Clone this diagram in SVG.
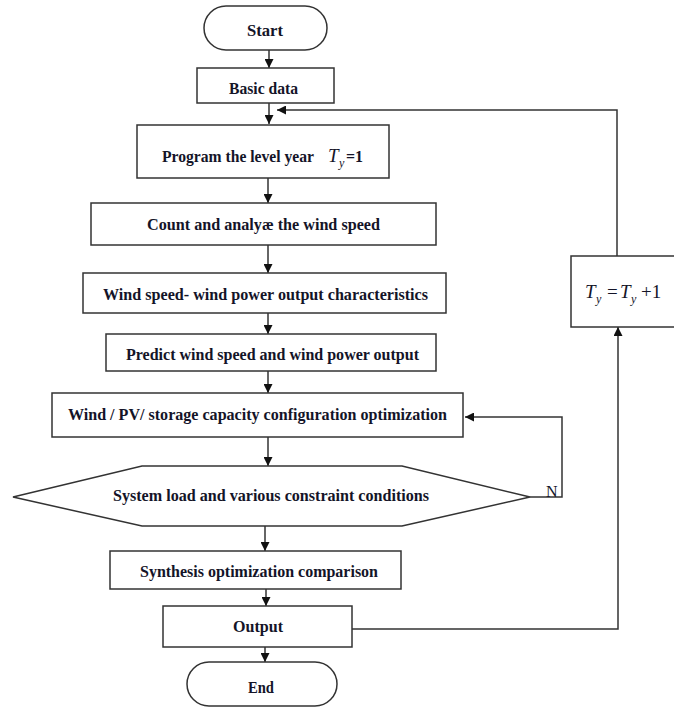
<svg xmlns="http://www.w3.org/2000/svg" width="674" height="708" viewBox="0 0 674 708">
<style>
.box{fill:#fff;stroke:#333;stroke-width:1.5}
.lbl{font-family:"Liberation Serif","Times New Roman",serif;font-weight:bold;font-size:16px;fill:#141428;text-anchor:start}
.it{font-family:"Liberation Serif","Times New Roman",serif;font-style:italic;font-size:19px;fill:#141428}
.sub{font-family:"Liberation Serif","Times New Roman",serif;font-style:italic;font-size:12px;fill:#141428}
.rm{font-family:"Liberation Serif","Times New Roman",serif;font-size:19px;fill:#141428}
.con{fill:none;stroke:#333;stroke-width:1.5}
</style>
<defs>
<marker id="ah" viewBox="0 0 10 10" refX="10" refY="5" markerWidth="9" markerHeight="9" markerUnits="userSpaceOnUse" orient="auto">
<path d="M0,0 L10,5 L0,10 z" fill="#111"/>
</marker>
</defs>
<rect x="0" y="0" width="674" height="708" fill="#fff"/>
<g id="connectors">
<line class="con" x1="269" y1="50" x2="269" y2="68" marker-end="url(#ah)"/>
<line class="con" x1="269" y1="103" x2="269" y2="124" marker-end="url(#ah)"/>
<line class="con" x1="268" y1="178" x2="268" y2="203" marker-end="url(#ah)"/>
<line class="con" x1="268" y1="245" x2="268" y2="273" marker-end="url(#ah)"/>
<line class="con" x1="268" y1="313" x2="268" y2="334" marker-end="url(#ah)"/>
<line class="con" x1="268" y1="371" x2="268" y2="393" marker-end="url(#ah)"/>
<line class="con" x1="268" y1="437" x2="268" y2="466" marker-end="url(#ah)"/>
<line class="con" x1="265" y1="526" x2="265" y2="551" marker-end="url(#ah)"/>
<line class="con" x1="266" y1="589" x2="266" y2="606" marker-end="url(#ah)"/>
<line class="con" x1="265" y1="647" x2="265" y2="662" marker-end="url(#ah)"/>
<polyline class="con" points="530,497 562,497 562,417 465,417" marker-end="url(#ah)"/>
<polyline class="con" points="352,629 618,629 618,327" marker-end="url(#ah)"/>
<polyline class="con" points="617,256 617,110 277,110" marker-end="url(#ah)"/>
<text x="546" y="497" style="font-family:'Liberation Serif',serif;font-size:16px;fill:#141428">N</text>
</g>
<g id="start">
<rect class="box" x="204" y="6" width="123" height="44" rx="22" ry="22"/>
<text class="lbl" x="247" y="36" textLength="36" lengthAdjust="spacingAndGlyphs">Start</text>
</g>
<g id="basic">
<rect class="box" x="197" y="68" width="137" height="35"/>
<text class="lbl" x="229" y="94" textLength="69" lengthAdjust="spacingAndGlyphs">Basic data</text>
</g>
<g id="program">
<rect class="box" x="137" y="125" width="252" height="53"/>
<text class="lbl" x="162" y="162" textLength="152" lengthAdjust="spacingAndGlyphs">Program the level year</text>
<text class="it" x="328" y="162">T</text>
<text class="sub" x="339" y="167">y</text>
<text class="lbl" x="346" y="162" textLength="17" lengthAdjust="spacingAndGlyphs">=1</text>
</g>
<g id="count">
<rect class="box" x="91" y="203" width="345" height="42"/>
<text class="lbl" x="147" y="230" textLength="233" lengthAdjust="spacingAndGlyphs">Count and analyæ the wind speed</text>
</g>
<g id="windspeed">
<rect class="box" x="83" y="273" width="363" height="40"/>
<text class="lbl" x="103" y="300" textLength="325" lengthAdjust="spacingAndGlyphs">Wind speed- wind power output characteristics</text>
</g>
<g id="predict">
<rect class="box" x="106" y="334" width="330" height="37"/>
<text class="lbl" x="126" y="360" textLength="293" lengthAdjust="spacingAndGlyphs">Predict wind speed and wind power output</text>
</g>
<g id="config">
<rect class="box" x="52" y="393" width="411" height="44"/>
<text class="lbl" x="68" y="420" textLength="379" lengthAdjust="spacingAndGlyphs">Wind / PV/ storage capacity configuration optimization</text>
</g>
<g id="constraint">
<polygon class="box" points="13,497 142,466 402,466 530,497 402,526 142,526"/>
<text class="lbl" x="113" y="501" textLength="316" lengthAdjust="spacingAndGlyphs">System load and various constraint conditions</text>
</g>
<g id="synthesis">
<rect class="box" x="110" y="551" width="291" height="38"/>
<text class="lbl" x="140" y="577" textLength="238" lengthAdjust="spacingAndGlyphs">Synthesis optimization comparison</text>
</g>
<g id="output">
<rect class="box" x="163" y="606" width="189" height="41"/>
<text class="lbl" x="233" y="632" textLength="50" lengthAdjust="spacingAndGlyphs">Output</text>
</g>
<g id="end">
<rect class="box" x="187" y="662" width="150" height="44" rx="22" ry="22"/>
<text class="lbl" x="248" y="693" textLength="26" lengthAdjust="spacingAndGlyphs">End</text>
</g>
<g id="increment">
<rect class="box" x="571" y="256" width="112" height="71"/>
<text class="it" x="585" y="298">T</text>
<text class="sub" x="596" y="303">y</text>
<text class="rm" x="607" y="298">=</text>
<text class="it" x="620" y="298">T</text>
<text class="sub" x="631" y="303">y</text>
<text class="rm" x="641" y="298">+1</text>
</g>
</svg>
